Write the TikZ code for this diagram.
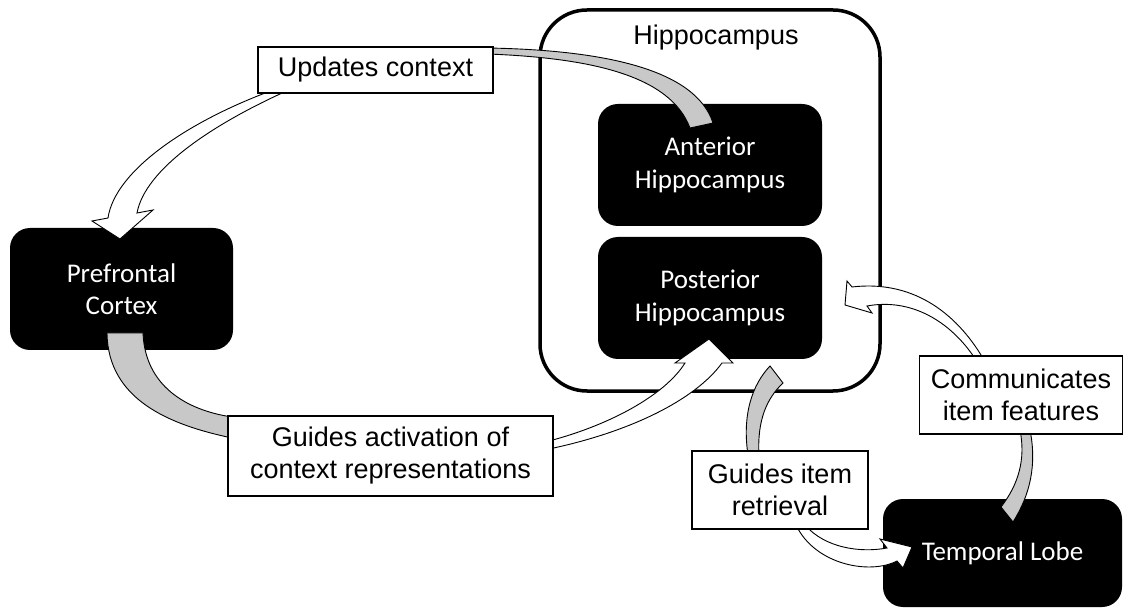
\documentclass[tikz,border=0pt]{standalone}
\usepackage{fontspec}
\newfontfamily\arialf{Liberation Sans}
\newfontfamily\calf{Carlito}
\definecolor{ribgray}{RGB}{200,200,200}
\begin{document}
\begin{tikzpicture}[x=1pt,y=-1pt,
  blk/.style={fill=black, rounded corners=20pt, text=white,
    font=\calf\fontsize{27pt}{32.5pt}\selectfont, align=center, inner sep=0pt},
  lab/.style={draw=black, line width=1.1pt, fill=white,
    font=\arialf\fontsize{27pt}{32pt}\selectfont, align=center, inner sep=0pt},
  hipbox/.style={draw=black, line width=3.5pt, rounded corners=47pt, inner sep=0pt},
  grayrib/.style={fill=ribgray, draw=black, line width=0.9pt},
  whiterib/.style={fill=white, draw=black, line width=0.9pt}]
\useasboundingbox (0,0) rectangle (1124,609);

% hippocampus container
\node[hipbox, minimum width=340pt, minimum height=381pt] (hip) at (710,200.5) {};
\node[font=\arialf\fontsize{27pt}{32pt}\selectfont] (hiptitle) at (716,38) {Hippocampus};

% black region boxes
\node[blk, minimum width=223pt, minimum height=122pt] (pfc) at (121.5,289) {Prefrontal\\Cortex};
\node[blk, minimum width=224pt, minimum height=122pt] (ant) at (710,165) {Anterior\\Hippocampus};
\node[blk, minimum width=224pt, minimum height=122pt] (post) at (710,298) {Posterior\\Hippocampus};
\node[blk, minimum width=239pt, minimum height=108pt] (tl) at (1002.5,553) {Temporal Lobe};

% ribbon 1: anterior -> updates context -> prefrontal
\draw[grayrib] (488,48) .. controls (600,50) and (695,68) .. (713,123)
  -- (690,128) .. controls (670,75) and (590,58) .. (488,54) -- cycle;
\draw[whiterib] (276,89) .. controls (190,120) and (115,170) .. (108,218)
  -- (92,221) -- (120,239) -- (153,210) -- (137,213)
  .. controls (145,170) and (210,125) .. (291,89) -- cycle;

% ribbon 2: prefrontal -> guides activation -> posterior
\draw[grayrib] (107,333) .. controls (108,400) and (170,425) .. (232,438)
  -- (232,417) .. controls (185,410) and (145,385) .. (143,333) -- cycle;
\draw[whiterib] (549,441) .. controls (610,425) and (665,395) .. (685,363)
  -- (675,363) -- (709,339) -- (733,363) -- (722,363)
  .. controls (695,400) and (630,432) .. (549,449) -- cycle;

% ribbon 3: temporal -> communicates -> posterior
\draw[grayrib] (1020,430) .. controls (1026,460) and (1018,485) .. (1001,507)
  -- (1013,522) .. controls (1030,495) and (1037,465) .. (1030,430) -- cycle;
\draw[whiterib] (984,360) .. controls (955,310) and (910,280) .. (852,287)
  -- (847,281) -- (845,305) -- (872,313) -- (867,306)
  .. controls (910,298) and (950,320) .. (976,360) -- cycle;

% ribbon 4: posterior -> guides item retrieval -> temporal
\draw[grayrib] (748,455) .. controls (742,415) and (752,385) .. (770,366)
  -- (783,383) .. controls (767,398) and (757,420) .. (759,455) -- cycle;
\draw[whiterib] (805,525) .. controls (825,548) and (860,553) .. (887,548)
  -- (880,539) -- (912,547) -- (903,568) -- (897,561)
  .. controls (870,575) and (815,565) .. (796,525) -- cycle;

% labels
\node[lab, minimum width=235pt, minimum height=46pt] (l1) at (375.5,70) {Updates context};
\node[lab, minimum width=325pt, minimum height=80pt] (l2) at (390.5,456) {Guides activation of\\context representations};
\node[lab, minimum width=176pt, minimum height=78pt] (l3) at (780,490) {Guides item\\retrieval};
\node[lab, minimum width=203pt, minimum height=78pt] (l4) at (1021,395) {Communicates\\item features};
\end{tikzpicture}
\end{document}
